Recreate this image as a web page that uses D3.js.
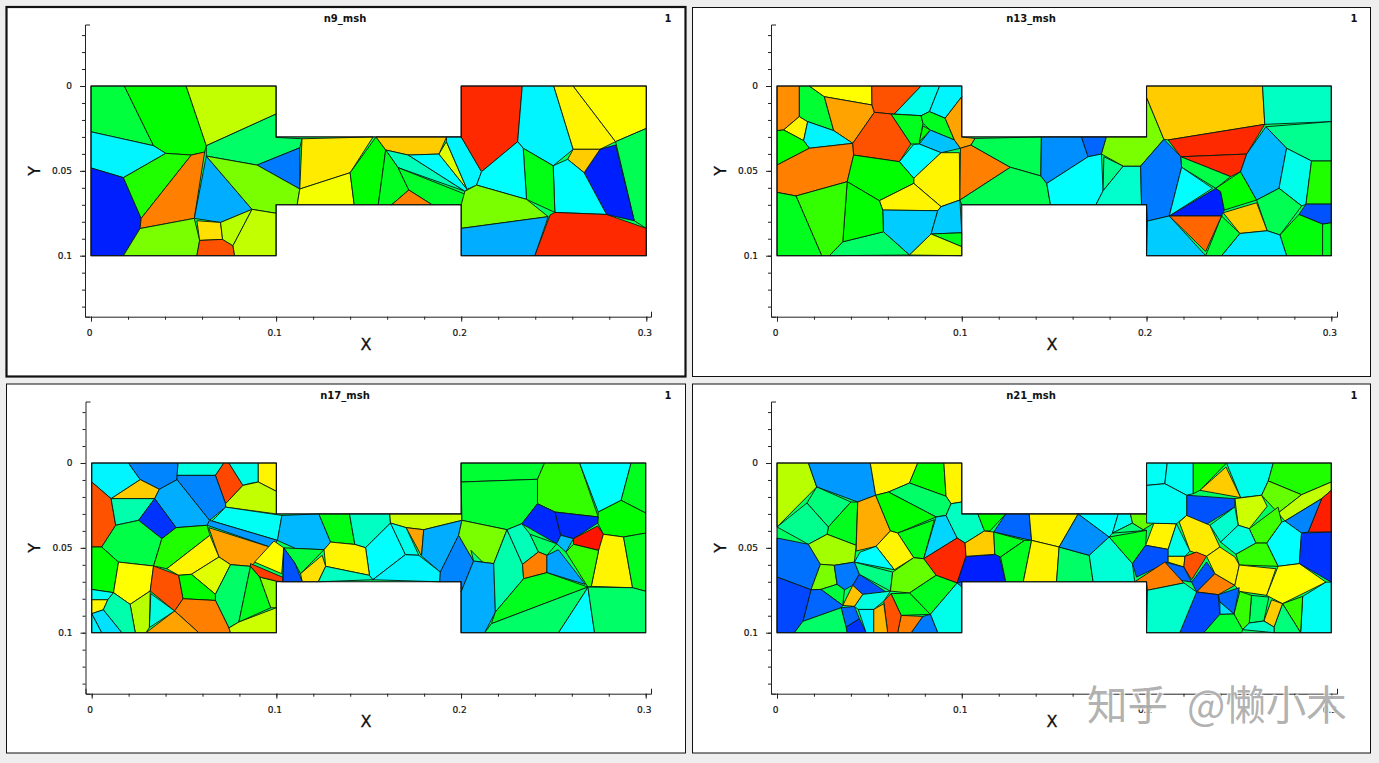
<!DOCTYPE html>
<html><head><meta charset="utf-8">
<script src="https://cdn.jsdelivr.net/npm/d3@7"></script>
<style>html,body{margin:0;padding:0;background:#eeeeee;overflow:hidden}svg{display:block}</style>
</head><body>
<script>
// All cell vertices are in units of 0.001 (x, y); value is the field level 0..1.
const n9Cells = [
[.44,"0,0 18,0 33.8,35.2 0,27"],
[.5,"18,0 51.4,0 62.3,35.2 61.4,38.9 54.2,40.7 40.4,39.7 33.8,35.2"],
[.69,"51.4,0 100,0 100,16.5 62.6,35"],
[.24,"0,27 33.8,35.2 40.4,39.7 17.5,54 0,48.3"],
[.03,"0,48.3 17.5,54 27.1,78 26.5,84 17.5,100 0,100"],
[.53,"17.5,54 40.4,39.7 54.5,40.7 27.4,77.4"],
[.875,"54.5,40.7 62,39 55.8,78 27.1,84 27.1,78"],
[.17,"62.3,41.3 87,72.7 70,80.4 56,78"],
[.4,"62.6,35 100,16.5 100,30.3 114,31.1 112.8,36.4 89.7,46.6 62.3,40.5"],
[.12,"89.7,46.6 112.8,36.4 112.8,60.7"],
[.62,"62.6,41 89.7,46.6 112.8,60.7 111.4,70 100,70 100,75 87,72.7"],
[.62,"26.5,84 55.8,78 58.7,91 57.2,100 17.5,100"],
[.78,"57.2,79.4 69.9,80.4 71.1,90.4 59,90.8"],
[.92,"59,90.8 71.1,90.4 76.7,94.1 77.6,100 57.2,100"],
[.68,"69.9,80.4 87,73.4 77.4,94.1 71.1,90.4"],
[.69,"87,73 100,75 100,100 77.6,100 77.4,94.1"],
[.77,"113.7,30 152.4,30 140,51.1 112.8,61.3"],
[.74,"112.8,61.3 140,51.1 142.2,70 111,70"],
[.5,"140,51.1 154,30 159.2,37.7 155.2,70 142.2,70"],
[.8,"155.2,30 192.1,30 188,40.1 171.4,40.7 159.6,37.3"],
[.32,"159.6,37.3 171,41 202,62 165.9,48.1"],
[.25,"171.4,40.7 188,40.1 203.2,60.9 201,62.3"],
[.72,"188,40.1 192,32.8 203.8,61.3"],
[.24,"192,30 200,30 211,50.5 208.3,58.4 203.8,61.3 192,32.8"],
[.47,"159.2,37.7 166,48.6 171.7,61.3 162.4,70 155.2,70"],
[.46,"166,48.6 202,63.7 200,70 184.3,70 171.7,61.3"],
[.875,"171.7,61.3 184.3,70 162.4,70"],
[.96,"200,0 233,0 230.5,32.8 211.5,50.5 200,30"],
[.24,"233,0 250,0 260.5,37.3 249.7,47 233.5,36.7 230.5,32.8"],
[.76,"250,0 260.5,0 283.4,32.8 275,37.3 260.5,37.3"],
[.75,"260.5,0 300,0 300,25 283.4,32.8"],
[.42,"283.4,32.8 300,25 300,83.9 293.5,79.4"],
[.03,"275,36.7 283.4,34.8 293.5,79.4 278.5,75.7 266.4,51.1"],
[.8,"260.5,37.3 275,37.3 266.4,50.5 257.5,43.2"],
[.25,"249.7,47 257.5,43.6 266.4,51.1 278.5,75.7 250.6,74.5"],
[.48,"233.5,37.1 249.7,47 250.6,75 235.3,66.8"],
[.25,"211.4,50.5 230.5,33.2 233.5,37.1 235.3,66.8 208.3,58.4"],
[.62,"207.4,59 235.3,66.8 247,77 200,83.9 200,70 202,63.3"],
[.17,"200,84.3 246.5,77.4 239.8,100 200,100"],
[.96,"248,76 251.5,74.5 278.5,75.7 300,83.9 300,100 239.8,100"]
];
const n13Cells = [
[.86,"0,0 12.1,0 12.1,18 3.6,25.9 0,26.3"],
[.76,"3.6,25.9 11.6,18 16.6,21 14.4,32.2"],
[.45,"12.1,0 17.5,0 25.6,6.3 30.7,26.3 16.6,21 12.1,18"],
[.75,"17.5,0 51.3,0 51.4,11.2 25.6,6.3"],
[.84,"25.6,6.3 51.4,11.2 52.7,15.5 41,33.8 30.7,26.3"],
[.92,"51.3,0 78,0 63.5,16.5 61.7,16.5 53,15.5 51.4,11.2"],
[.27,"78,0 88,0 82.5,15.1 78,17.5 64.4,16.1"],
[.24,"88,0 100,0 100,6.3 91,19 83,14.7"],
[.24,"16.6,21 30.7,26.3 41,34.2 17.5,36.7 14.4,32.2"],
[.5,"0,26.3 3.6,25.9 14.4,32.2 17.5,36.7 0,46.6"],
[.875,"0,46.6 17.5,36.7 41,34.8 41.5,40.7 38,56.4 10.3,64.8 0,62.7"],
[.92,"53,15.5 61.7,16.5 72.5,34.2 66.2,44.6 41.5,39.7 41,33.8"],
[.47,"62,16.5 78,17.5 79,22 77,34.2 72.5,34.2"],
[.5,"79,23.5 83,26 77,32.8"],
[.47,"78,17.5 83,15.1 91,19 96,31.8 84.3,26 79,22"],
[.19,"84.3,26 96,32.2 99.3,36.7 88.8,39.3 77,33.8"],
[.84,"91,19 100,6.3 100,30 107.2,30.9 105,34.8 99.3,37.3 96,31.8"],
[.25,"74,34.4 77,34.2 88.8,39.3 74,54.4 66.2,44.6"],
[.76,"74,54.4 88.8,39.3 98.7,39.3 99,67.2 88.8,71.1 74,57.4"],
[.5,"41.5,40.1 66.2,44.6 74,54.4 74,57.4 55.4,67.6 38,56.4"],
[.76,"55.4,67.6 74,57.4 88.8,71.1 87,73.5 57.2,73.1"],
[.2,"57.2,73.5 87,73.5 83.4,87.2 71.7,99.6 57.6,85.9"],
[.2,"87,73.5 88.8,71.1 100,67.2 100,86.5 83.8,86.5"],
[.47,"84.3,86.9 100,86.5 100,94.7"],
[.72,"83.4,87.2 100,94.7 100,100 71.7,100"],
[.4,"35.6,91.8 57.2,85.9 71.7,100 28.3,100"],
[.5,"38,56.4 55.4,67.6 57.2,73.1 57.2,85.9 35.6,91.8"],
[.55,"10.8,64.8 38,56.4 35.6,91.8 28.3,100 24.2,100"],
[.47,"0,62.7 10.3,64.8 24.2,100 0,100"],
[.875,"99,37.3 105,34.8 126.3,47.9 98.7,67.2"],
[.42,"107.2,30 143.1,30 142.8,53 126.3,47.9 105,34.8"],
[.42,"126.3,47.9 142.8,53 146,57.4 148,70 100,70 98.7,67.2"],
[.14,"143.7,30 164.8,30 168.4,41.7 146.8,57.4 143.1,53"],
[.1,"164.8,30 178.3,30 175.6,40.1 168.4,42"],
[.25,"146.8,57.4 168.4,42 176.5,40.1 176.5,61.7 172.6,70 148,70"],
[.36,"176.9,41.7 187.4,47.2 176.5,61.7"],
[.3,"187.4,47.2 196.8,47.2 197.3,70 172.6,70 176.5,61.7"],
[.62,"178.3,30 200,30 200,6.7 209.4,31.4 196.8,46.6 187.4,47.2 175.6,40.1"],
[.8,"200,0 262.8,0 264,22.6 211.7,31.8 209.4,31.4 200,6.7"],
[.31,"262.8,0 300,0 300,21 264,23.6"],
[.36,"264.6,24 300,21 300,44.2 289.3,44.2 275.8,36.7"],
[.96,"212.6,32.2 264,23 254.2,40.1 218.6,41.7"],
[.96,"219,41.7 254.2,40.5 250.9,50.5 245.5,53.4"],
[.12,"197.3,47.2 209.4,31.8 218,41.3 219,47.9 212.3,76.6 200.5,79.6 200,70 197.3,70"],
[.43,"219,42 245.5,53.4 237.5,60.3 219,47.9"],
[.25,"219,47.9 235.7,60.3 212.3,76.6"],
[.03,"238.3,60.3 240.1,62.3 242.1,73.1 240.6,76.6 212.6,76.6"],
[.5,"237.5,60.3 250.9,51 259.6,67.2 242.4,72.7 240.1,62.3"],
[.18,"264.6,24 275.8,36.7 271.7,60.3 260,66.8 251.4,50.5 255.1,40.1"],
[.27,"276.2,37.1 289.3,44.2 286.3,69.6 284,70.7 271.7,60.7"],
[.53,"289.3,44.6 300,44.6 300,69.6 286.3,69.6"],
[.42,"271.7,60.7 284,70.7 272.2,87.8 265.3,85.3 259.9,68.2"],
[.08,"285.7,69.2 300,69.6 300,80.6 295.3,81.4 282.5,75.7"],
[.49,"282.5,76.6 295.3,81.6 295.3,100 275.8,100 272.2,88.2"],
[.47,"295.3,81.6 300,80.4 300,100 295.3,100"],
[.8,"241.5,74.7 259.6,68.8 265.3,85.3 250.5,86.9"],
[.23,"250.5,86.9 265.3,85.3 272.2,88.2 275.8,100 240.6,100"],
[.45,"241.5,76.6 250.5,86.9 240.6,100 232,100"],
[.9,"212.6,77 240.2,77 232,97.5"],
[.2,"200.5,80 212.3,77.4 232,100 200,100"]
];
const n17Cells = [
[.24,"0,0 19.9,0 26.3,9.8 10.5,21 0,11.2"],
[.13,"19.9,0 46.8,0 46.2,9.8 36.6,15.5 26.3,9.8"],
[.28,"46.8,0 71.6,0 67,7.3 46.2,7.3"],
[.93,"71.6,0 74.3,0 81.9,13.2 72.5,24 66.5,7.3"],
[.27,"74.6,0 90.2,0 90.2,11.2 85,12.2 81.9,13.2"],
[.76,"90.2,0 100,0 100,16.7 90.2,11.2"],
[.8,"10.5,21 26.3,9.8 35.9,15.5 34.1,21"],
[.69,"81.9,13.2 90.2,11.2 100,16.7 100,30 72.5,26 72.5,24"],
[.13,"46.2,7.3 66.7,7.3 72.5,24 72.1,26 63.8,33.8 46.2,9.8"],
[.17,"36.6,15.5 46.2,10.2 63,33.8 62.5,36.7 45.7,38.1 34.1,21"],
[.92,"0,11.8 10.5,21 13,36.7 5.4,49.5 0,49.5"],
[.33,"10.5,21 34.1,21 25.4,33.8 13,36.7"],
[.05,"34.1,21.6 45.3,38.1 38,44.6 25.4,33.8"],
[.26,"72.5,26 103,30.9 100.6,45.6 65.2,34.2"],
[.15,"63.4,34.2 65.2,34.2 100,45.6 97.8,50 63,37.1"],
[.84,"63.4,38.1 97.8,50 86,60.9 75.2,59.9 68.9,55.4"],
[.43,"13,36.7 25.4,33.8 38,44.6 33.5,60.7 14.5,58.4 5.4,49.5"],
[.53,"38.4,44.6 45.7,38.1 62.5,36.7 64,42.6 40.7,62.3 33.5,60.7"],
[.76,"40.7,62.3 64,42.6 68.9,55 54,65.6 47.1,66.2"],
[.72,"54,66.2 68.9,55.4 74.8,59.9 67,77.4"],
[.5,"0,49.5 5.4,49.5 14.5,58.4 11.8,76.4 0,74.5"],
[.75,"14.9,58.8 33.5,60.7 31.7,75.4 20.8,83.3 11.8,76.4"],
[.92,"33.5,61.3 47.1,66.2 49.5,80 44.9,87.2 31.7,76"],
[.5,"47.6,66.8 54,66.2 67,77.4 67,81 49.5,80"],
[.4,"75.2,60.3 85.5,61.3 79.7,93.7 74.3,97.2 67,81 67,77.4"],
[.47,"85.5,61.3 91,67.2 97,85.3 79.7,93.7"],
[.64,"91,67.6 100,69.6 100,85.3 97,85.3"],
[.94,"86,59.3 104,67.6 103.6,70 100,69.6 91,67.2 85.5,61"],
[.75,"88.2,58.4 98.7,46 104,50 102.9,65.2"],
[.22,"103.3,49.5 105,50 103.6,70"],
[.875,"44.9,87.2 49.5,80.6 67,81 75.2,97.2 75.2,100 58,100"],
[.84,"29.4,100 44.4,87.8 57.6,100"],
[.28,"32,77 44.4,87.2 31.2,97"],
[.68,"20.8,83.9 31.7,76 30.8,96.7 29,100 23.6,100"],
[.7,"75.2,98 79.7,93.7 100,85.9 100,100 75.2,100"],
[.26,"0,74.5 11.2,76.6 8.7,80.6 0,80.6"],
[.76,"0,80.9 8.2,80.6 6.3,86.5 0,88.8"],
[.33,"9,80.6 12.3,77 20.8,83.9 23.6,100 16.3,100 6.9,87.2"],
[.22,".9,89.8 6.3,87.2 16.3,100 5.4,100"],
[.24,"0,89.8 .9,89.8 5,100 0,100"],
[.18,"103.3,30 123,30 129.4,46.6 125.8,51.1 110.4,50.4 100.6,45.6"],
[.48,"123.4,30 139.6,30 142.5,48 129.4,46"],
[.31,"139.8,30 161.4,30 161.8,35.4 148.3,49.9 142.9,48"],
[.7,"161.4,30 200.5,30 200.5,33.8 179.8,39.3 170.3,38.1 161.8,35.4"],
[.25,"161.8,35.8 169.9,54 152.2,68.8 150.4,66.2 148.3,49.9"],
[.27,"162.7,35.8 170.3,38.1 177.1,54.4 169.9,54"],
[.84,"170.3,38.7 179.8,39.7 178.6,54.8"],
[.17,"179.8,39.3 200.5,34.2 198.7,42.6 188.8,64.3 178.6,54.8"],
[.24,"152.2,69.2 169.9,54 177.1,54.4 188.5,64.3 188.5,70"],
[.13,"198.7,43 206.8,57.8 200,76 200,70 188.5,70 188.8,64.3"],
[.76,"125.8,51 129.4,46.6 142.5,48 148.3,50.5 150.4,66.8 126.7,60.9"],
[.78,"113.1,65.2 124.8,54.4 126.7,61.3 122.7,70 114,70"],
[.44,"105,50 125.8,51.4 113.1,64.5 112.5,66 110,59"],
[.08,"105,50.5 110,59 114,70 104,70"],
[.31,"126.7,61.3 150.4,66.8 152.2,70 122.7,70"],
[.45,"200,0 245.2,0 241.4,9.6 200,11.2"],
[.45,"200,11.2 241.4,9.8 241.4,24 232.9,35.8 224.9,39.3 200.5,32.8"],
[.55,"245.9,0 264.2,0 274.3,31.8 250.9,28.9 242,24 241.4,9.4"],
[.25,"264.2,0 292.1,0 286.7,22 274.3,28.9"],
[.47,"292.1,0 300,0 300,29.5 287,22"],
[.5,"274.3,29.9 287,22.4 300,29.9 300,41.3 288,43.6 277.1,42 274,35.4"],
[.04,"242,24.4 250.9,29.5 254,42.6 251.8,47.6 232,35.8"],
[.04,"251.4,29.5 274,31.8 274,36.7 260.9,44.6 254,42.6"],
[.98,"260.9,44.6 274,37.1 277.1,42 274.5,51.5 260.9,47.9"],
[.76,"277.1,42 288,43.6 292.9,73.5 270.5,72.7 274.5,51.9"],
[.47,"288,43.6 300,41.3 300,75.6 292.9,73.5"],
[.62,"200.5,33.8 224.9,39.7 217.7,59.3 207.2,57.8 198.7,42.6"],
[.38,"205.4,51.5 211.7,58.4 207.4,58.4"],
[.17,"207.4,58.4 218,59.7 218.6,87.8 212.8,100 200,100 200,76"],
[.33,"224.3,39.7 233.3,59.7 233.9,68.2 218.6,87.2 218,59.7"],
[.32,"225.2,39.3 232,36.3 237.4,42 241.9,52.4 233.3,60.3"],
[.4,"237.4,42 252.7,48.5 246.5,54.4 241.9,52.4"],
[.875,"233.3,60.3 241.9,52.4 245.9,54.8 246.5,64.6 234.4,68.2"],
[.16,"246.5,54.8 252.7,51.1 267.2,71.5 246.5,64.6"],
[.18,"253.7,42.6 261,45.2 256.8,52.5 252.7,48.5"],
[.55,"256.8,52.5 260.9,48.5 274,51.9 270.5,72.1 268.7,73.1"],
[.47,"218.6,87.8 233.9,68.8 246.5,64.8 268.7,73.1 216.4,94.7"],
[.4,"216.4,94.7 268.7,73.1 266.9,76.4 252.8,100 213,100"],
[.25,"268.7,73.5 272.3,100 252.8,100 266.9,76.4"],
[.4,"268.7,73.5 292.9,73.5 300,75.6 300,100 272.3,100"]
];
const n21Cells = [
[.68,"0,0 17,0 21.5,14.1 0,37.7"],
[.15,"17,0 50.5,0 53.4,19 43.7,23 21.5,14.1"],
[.76,"50.5,0 76.2,0 71.7,11.8 60.3,17.1 53.4,19"],
[.5,"76.2,0 90.3,0 91.5,19.6 71.7,11.8"],
[.76,"90.3,0 100,0 100,23 94.2,24 91.5,19.6"],
[.4,"71.7,11.8 91.5,19.6 94.2,24 91.5,30.9 86.1,31.8 60.3,17.5"],
[.38,"21.5,14.5 40,23 27.8,37.7 16.2,23.6"],
[.47,"28.3,37.7 40,23 43.7,23 42.8,48.5 27.1,42"],
[.36,"0,38.1 16.2,23.6 27.8,37.7 26.5,42 17,47.9"],
[.83,"43.7,23 53.4,19.6 61.4,40 53.6,49.1 42.8,51.9"],
[.5,"53.6,19.6 60.3,17.5 86.1,31.8 65.3,41.3 61.4,40"],
[.48,"65.3,41.3 85.2,33.4 79.4,56.4 74,55.8"],
[.76,"61.4,40 65.3,41.3 74,55.8 63.5,62.9 53.6,49.1"],
[.21,"86.1,31.8 91.5,31.4 97.5,44.2 79.4,56.4"],
[.31,"94.2,24 100,23 100,30 108.7,30 112.3,40 101.8,47.2 97.5,44.2 91.5,31.4"],
[.96,"79.7,56.8 97.5,44.6 101.8,47.9 102.3,55 97.5,70.7 86.1,66.2"],
[.03,"102.3,53.8 120,53.8 123.8,70 100,70 97.8,71.1"],
[.12,"97.8,71.1 100,70 100,73.1"],
[.8,"101.8,47.9 112.3,40.7 117.3,40.7 117.9,53.8 102.3,53.8"],
[.5,"108.7,30 123.8,30 115.3,40 112.3,40"],
[.1,"124.2,30 136.5,30 137.8,45.6 117,40"],
[.47,"117.3,40.7 134,45.6 121,55.4 117.9,53.8"],
[.47,"121,55.8 134,45.6 137.8,45.6 133.3,70 123.8,70"],
[.76,"136.5,30 163,30 152.7,49.5 137.8,45.2"],
[.76,"137.8,45.6 152.7,49.9 151.3,70 133.3,70"],
[.4,"152.7,49.9 169,54.4 171.1,70 151.3,70"],
[.14,"163,31.4 179.8,43.6 169,54.4 154,49.1"],
[.29,"169,54.4 179.8,44 192.4,59.3 193.6,70 171.1,70"],
[.25,"163,30 184.7,30 181.6,41.3 179.8,43.6"],
[.26,"184.7,30 191.3,30 192.4,35.4 181.6,41.3"],
[.38,"181.6,42 192.4,35.4 198.2,39.3 200,39.7"],
[.6,"191.3,30 200,30 204,35.4 199,39.3 192.4,35.4"],
[.47,"180.6,43.2 200.5,39.3 199.5,48.5 192.4,59.3"],
[.76,"204,35.8 216.2,35.8 211.7,50.9 200,47.9"],
[.08,"199.5,48.5 211.7,50.9 211.7,58.4 194.6,67.2 192.4,59.3"],
[.11,"0,44.2 16.6,47.9 23.5,59.7 18.4,74.7 0,67.2"],
[.66,"17,48.1 26.5,42 43.3,49.5 41.9,58.4 31,60.3 23.5,59.3"],
[.62,"23.8,59.7 30.7,60.3 32.5,71.5 23.8,74.5 18.8,74.5"],
[.12,"31.6,60.7 42.8,58.9 44.6,65.6 41,72.1 36.5,74.7 32.9,71.5"],
[.08,"44.1,66.2 59,76 46.4,77.4 41,72.7"],
[.25,"42.8,57.8 45,52.5 53.6,49.9 63.2,63.7"],
[.37,"42.8,59.3 62.6,64.3 61.4,75.5 44.6,65.6"],
[.6,"62.6,64.3 74,56.4 79.4,56.4 86.1,66.2 71.7,76.6 61.4,76.6"],
[.47,"86.1,66.8 97.5,71.1 83,89.2 72.2,76.6"],
[.27,"97.8,71.5 100,72.7 100,100 87,100 83,89.8"],
[.47,"61.7,77 72.2,76.6 83,89.8 67.2,89.8"],
[.12,"78.9,90.4 83,90.4 87.4,100 72.6,100"],
[.875,"67.2,90.4 78.9,90.4 71.7,100 65.3,100"],
[.92,"57.8,81.4 61.4,77 67.2,88.8 65.3,100 59.9,100"],
[.82,"52.3,86.3 57.8,82.9 59.6,100 52.3,100"],
[.28,"41.9,84.5 46.4,78 60.8,76 57.8,81.4 51.8,86.3 44,86.3"],
[.24,"44.6,86.9 51.8,86.5 51.8,100 48.2,100"],
[.81,"35.6,83.9 40.1,73.1 45.3,77.4 41.9,84.5"],
[.44,"23.8,74.5 32.2,72.1 36.1,74.7 35.6,83.9"],
[.1,"34.7,85.3 41.9,85.3 44.6,91.8 37.4,96.7"],
[.05,"37.4,97.1 44.6,92.2 48.2,100 37.9,100"],
[.1,"18.8,74.7 23.8,75 35.2,83 33.8,84.9 14,93.3"],
[.07,"0,67.6 18.4,75 14,93.3 9.4,100 0,100"],
[.4,"13.9,93.7 34.3,85.3 37.4,97.1 37.4,100 9.4,100"],
[.26,"200,0 211.2,0 209.9,12.2 200,13.2"],
[.26,"211.2,0 225.3,0 225.3,18.1 221.7,19 209.9,12.2"],
[.5,"225.3,0 243.3,0 228.9,16.1 225.3,17.1"],
[.27,"243.7,0 268.6,0 265.9,10.6 262.3,19 250.9,20.4"],
[.8,"228.9,16.7 243,2.4 250.9,20.8"],
[.53,"268.6,0 300,0 300,11.2 283.9,18.7 266.4,10.2"],
[.6,"266.4,10.6 283.9,19 271.2,29.5 262.3,19"],
[.69,"300,11.8 300,16.1 294.8,21 274.9,34.2 271.2,29.5 283.9,19"],
[.97,"300,16.7 300,40.7 287.5,40.7 294.8,22"],
[.13,"275.8,34.2 294.2,21.6 287,41.3 283.9,41.3"],
[.25,"273.1,34.8 275.8,34.2 283.9,41.3 282.7,59.3 271.2,60.9 265,47.2"],
[.05,"284.5,41.3 300,41.3 300,70.2 282.7,59.7"],
[.56,"255.6,38.7 271.2,26 273.1,34.2 265,47.2 259.2,47.2"],
[.7,"247.8,21 262.3,19 265.3,25.5 255.6,38.3 249.6,36.7"],
[.08,"222,18.1 247.8,21.4 247.8,25.9 231.6,36.7 221.7,30.9"],
[.26,"200,13.2 209.9,12.2 221.7,19 221.3,30.9 216.2,35.4 200,35.4"],
[.77,"217.7,34.8 221.7,31.4 234.3,36.7 239.7,49.5 232.5,55 223.5,51.9"],
[.3,"234.3,36.7 247.6,26.9 249.6,36.7 240.1,46.6"],
[.28,"240.1,47.2 249.6,37.3 255.6,39.3 259.2,47.2 248.4,53.8"],
[.27,"217.1,35.4 224.4,52.5 220.8,55 211.7,55 212.3,50.9"],
[.77,"211.7,55.4 220.2,54.6 220.2,61.3 212.6,58.4"],
[.92,"221,55 227,52.5 232.5,55 224.4,68.8 220.8,62.3"],
[.08,"232.5,58.4 237,65.2 227.1,76 224.4,70.2"],
[.1,"209.9,58.4 219.9,62.3 224.4,71.1 218,69"],
[.875,"209.9,59.7 220.2,70.7 200.5,75 200,70 193.1,69.6"],
[.875,"237.6,65.6 247.8,72.1 238.8,77.6 227.4,77"],
[.77,"232.9,55.4 239.7,49.5 247.8,55.4 250.2,60.1 248.2,72.1 237.6,65.6"],
[.55,"248.4,54.4 259.2,47.2 265,47.2 271.7,60.9 249.6,60.9"],
[.76,"250.2,61.3 270,62.3 265,78 250.5,75.7 248.2,72.1"],
[.75,"270.4,61.3 282.7,60.3 297.1,70.2 273.6,82.9 265.3,77.4"],
[.26,"300,70.7 300,100 283.4,100 284.5,78.6 297.1,70.7"],
[.55,"274,82.9 284.5,78.6 283.4,100"],
[.38,"273.1,83.9 283.4,100 269,100 269,96.7"],
[.8,"267.7,80.6 273.1,82.9 268.6,96.7 263.5,93.1"],
[.4,"256.8,78 266.2,79 263.2,93.1 255.6,94.3"],
[.55,"250.5,76 256.8,78 254.7,93.7 252,98.2 247.3,89"],
[.1,"238.8,78 250.2,73.5 247.8,89 239.7,81.9"],
[.22,"239.7,82.9 246.6,89 239.7,89.2"],
[.07,"227.1,76.6 238.8,78 239.7,89 231,100 218,100"],
[.45,"231,100 239.7,89.8 247,89.4 252,98.6 251.4,100"],
[.31,"252,99 255.6,94.7 263.2,93.7 268.6,97.7 268.6,100"],
[.3,"200,75 219.9,71.1 226.7,76.6 218,100 200,100"]
];
const panelNames = ["n9_msh","n13_msh","n17_msh","n21_msh"];
const panelCells = [n9Cells,n13Cells,n17Cells,n21Cells];
const domainOutline = [[0,0],[.1,0],[.1,.03],[.2,.03],[.2,0],[.3,0],[.3,.1],[.2,.1],[.2,.07],[.1,.07],[.1,.1],[0,.1]];
const xMajorTicks = [0,.1,.2,.3];
const xMinorTicks = d3.range(0,16).map(i=>i*.02);
const yMajorTicks = [0,.05,.1];
const yMinorTicks = d3.range(-3,14).map(i=>i*.01);
const panelIndexLabel = "1";

const layout = [
 {fx:6.5,fy:7,fw:679,fh:369.5,sw:2.2,x0:91,x3:646.3,ax:85,ar:651,y0:86,y1:255.7,at:24.5,ab:316.7,tx:345,xt:366,ix:668},
 {fx:692.5,fy:7.5,fw:678,fh:369,sw:1,x0:777,x3:1331.3,ax:771,ar:1337,y0:86,y1:255.7,at:24.5,ab:316.7,tx:1031,xt:1052,ix:1354},
 {fx:6.5,fy:384,fw:679,fh:369,sw:1,x0:91.7,x3:645.7,ax:85.5,ar:651,y0:463,y1:632.7,at:401.5,ab:693.7,tx:345,xt:366,ix:668},
 {fx:692.5,fy:384,fw:678,fh:369,sw:1,x0:777,x3:1331.3,ax:771,ar:1337,y0:463,y1:632.7,at:401.5,ab:693.7,tx:1031,xt:1052,ix:1354}
];

const color = d3.scaleLinear().domain([0,.25,.5,.75,1])
  .range(["#0000ff","#00ffff","#00ff00","#ffff00","#ff0000"]);
const tickFmt = v => String(+v.toFixed(3));

// Cells were read one by one: merge corners of neighbouring cells that were read as nearly the same point.
function weldCells(cells, tol){
  const nodes = [];
  const weld = p => {
    let n = nodes.find(q => Math.hypot(q[0]-p[0], q[1]-p[1]) <= tol);
    if(!n){ n = p; nodes.push(n); }
    return n;
  };
  return cells.map(c => {
    const pts = c[1].split(" ").map(s => weld(s.split(",").map(Number)));
    return {value:c[0], pts:pts.filter((p,i)=>p!==pts[(i+1)%pts.length]).map(p=>[p[0]/1000,p[1]/1000])};
  });
}

const svg = d3.select("body").append("svg").attr("width",1379).attr("height",763);
const FONT = "DejaVu Sans";

layout.forEach((L,i)=>{
  const g = svg.append("g");
  g.append("rect").attr("x",L.fx).attr("y",L.fy).attr("width",L.fw).attr("height",L.fh)
    .attr("fill","#fff").attr("stroke","#111").attr("stroke-width",L.sw);

  const x = d3.scaleLinear().domain([0,.3]).range([L.x0,L.x3]);
  const y = d3.scaleLinear().domain([0,.1]).range([L.y0,L.y1]);
  const xA = x.copy().domain([x.invert(L.ax),x.invert(L.ar)]).range([L.ax,L.ar]);
  const yA = y.copy().domain([y.invert(L.at),y.invert(L.ab)]).range([L.at,L.ab]);
  const line = d3.line().x(d=>x(d[0])).y(d=>y(d[1])).curve(d3.curveLinearClosed);

  g.append("path").attr("d",line(domainOutline)).attr("fill","#00ff60");
  g.selectAll("path.cell").data(weldCells(panelCells[i],1.4)).join("path").attr("class","cell")
    .attr("d",c=>line(c.pts))
    .attr("fill",c=>color(c.value)).attr("stroke","#0a1a10").attr("stroke-width",.9).attr("stroke-linejoin","round");
  g.append("path").attr("d",line(domainOutline)).attr("fill","none").attr("stroke","#111").attr("stroke-width",1.1);

  const style = s => {
    s.selectAll("path,line").attr("stroke","#222");
    s.selectAll("text").attr("font-family",FONT).attr("font-size",9).attr("fill","#111")
      .attr("stroke","#111").attr("stroke-width",.2);
  };
  const xg = g.append("g").attr("transform",`translate(0,${L.ab})`);
  xg.call(d3.axisBottom(xA).tickValues(xMinorTicks).tickSize(3).tickSizeOuter(-5).tickFormat(""));
  xg.append("g").call(d3.axisBottom(xA).tickValues(xMajorTicks).tickSize(5).tickSizeOuter(0).tickPadding(8).tickFormat(tickFmt))
    .call(s=>s.select(".domain").remove());
  xg.selectAll("text").attr("dx",-2);
  style(xg);
  const yg = g.append("g").attr("transform",`translate(${L.ax},0)`);
  yg.call(d3.axisLeft(yA).tickValues(yMinorTicks).tickSize(3).tickSizeOuter(-5).tickFormat(""));
  yg.append("g").call(d3.axisLeft(yA).tickValues(yMajorTicks).tickSize(5).tickSizeOuter(0).tickPadding(8).tickFormat(tickFmt))
    .call(s=>s.select(".domain").remove());
  style(yg);

  g.append("text").attr("x",L.tx).attr("y",L.y0-64).attr("text-anchor","middle")
    .attr("font-family",FONT).attr("font-weight","bold").attr("font-size",10).attr("fill","#111").text(panelNames[i]);
  g.append("text").attr("x",L.ix).attr("y",L.y0-64).attr("text-anchor","middle")
    .attr("font-family",FONT).attr("font-weight","bold").attr("font-size",10).attr("fill","#111").text(panelIndexLabel);
  g.append("text").attr("x",L.xt).attr("y",L.ab+33).attr("text-anchor","middle")
    .attr("font-family",FONT).attr("font-size",16).attr("fill","#111").attr("stroke","#111").attr("stroke-width",.3).text("X");
  const yc = (L.y0+L.y1)/2;
  g.append("text").attr("transform",`translate(${L.ax-51},${yc}) rotate(-90)`).attr("text-anchor","middle").attr("dy","0.35em")
    .attr("font-family",FONT).attr("font-size",16).attr("fill","#111").attr("stroke","#111").attr("stroke-width",.3).text("Y");
});

const wm = svg.append("g").attr("font-family","Noto Sans CJK SC").attr("font-size",40.5);
[["知乎",1087],["@懒小木",1187]].forEach(([t,px])=>{
  wm.append("text").attr("x",px).attr("y",720).text(t).attr("fill","#a8a8a8").attr("fill-opacity",.9)
    .attr("stroke","#fff").attr("stroke-opacity",.75).attr("stroke-width",2.5).attr("paint-order","stroke");
});
</script>
</body></html>
